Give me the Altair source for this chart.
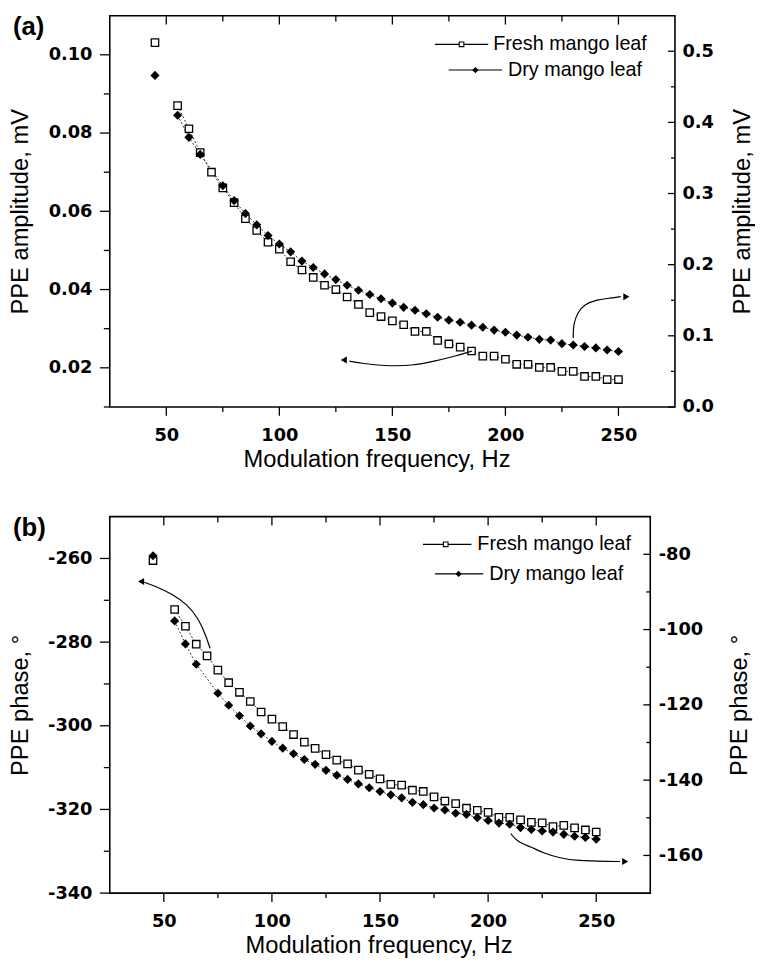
import altair as alt
import pandas as pd

# ---------------- data ----------------
FREQ = [45, 55, 60, 65, 70, 75, 80, 85, 90, 95, 100, 105, 110, 115, 120, 125, 130, 135, 140, 145,
        150, 155, 160, 165, 170, 175, 180, 185, 190, 195, 200, 205, 210, 215, 220, 225, 230, 235, 240, 245, 250]
FREQ_DRY = [45, 55, 60, 65, 75, 80, 85, 90, 95, 100, 105, 110, 115, 120, 125, 130, 135, 140, 145,
            150, 155, 160, 165, 170, 175, 180, 185, 190, 195, 200, 205, 210, 215, 220, 225, 230, 235, 240, 245, 250]

A_FRESH = [0.1031, 0.0870, 0.0811, 0.0750, 0.0700, 0.0660, 0.0622, 0.0581, 0.0551, 0.0521, 0.0503,
           0.0471, 0.0450, 0.0431, 0.0411, 0.0400, 0.0381, 0.0362, 0.0341, 0.0331, 0.0320, 0.0310,
           0.0293, 0.0293, 0.0270, 0.0261, 0.0253, 0.0243, 0.0230, 0.0230, 0.0222, 0.0209, 0.0209,
           0.0201, 0.0201, 0.0191, 0.0191, 0.0178, 0.0178, 0.0170, 0.0170]
A_DRY = [0.466, 0.410, 0.379, 0.355, 0.311, 0.290, 0.272, 0.256, 0.241, 0.229, 0.218, 0.205, 0.196,
         0.187, 0.179, 0.171, 0.164, 0.158, 0.152, 0.146, 0.140, 0.136, 0.131, 0.126, 0.122, 0.119,
         0.115, 0.112, 0.108, 0.105, 0.101, 0.098, 0.095, 0.094, 0.089, 0.087, 0.085, 0.083, 0.080, 0.078]
B_FRESH = [-260.5, -272.2, -276.2, -280.5, -283.3, -286.7, -289.7, -292.0, -294.2, -296.7, -298.4,
           -300.2, -302.1, -303.9, -305.4, -306.9, -308.2, -309.1, -310.6, -311.6, -312.7, -314.0,
           -314.2, -315.4, -315.7, -317.0, -318.0, -318.6, -319.7, -320.2, -320.7, -321.9, -321.9,
           -322.5, -323.1, -323.2, -324.1, -323.8, -324.4, -324.9, -325.4]
B_DRY = [-80.4, -97.7, -103.8, -109.2, -116.9, -120.1, -122.9, -125.6, -127.7, -129.7, -131.5,
         -133.0, -134.5, -135.8, -137.4, -138.7, -139.8, -141.0, -142.0, -143.0, -143.9, -144.7,
         -145.9, -146.5, -147.4, -147.9, -148.8, -149.1, -150.0, -150.7, -151.4, -151.7, -152.6,
         -153.1, -153.5, -153.8, -154.4, -154.9, -155.2, -155.7]

# annotation arrows (data coordinates)
A_ARR_R_F = [230, 230, 232, 234.8, 240.6, 246.4, 251]
A_ARR_R_V = [0.097, 0.116, 0.133, 0.144, 0.151, 0.153, 0.155]
A_HEAD_R = ([253.5], [0.155])
A_ARR_L_F = [185.3, 178, 169.2, 159, 145.9, 137.1, 131]
A_ARR_L_V = [0.0243, 0.0230, 0.0218, 0.0205, 0.0205, 0.0211, 0.0217]
A_HEAD_L = ([128.5], [0.0220])
B_ARR_L_F = [71.4, 69.4, 66.1, 60.7, 53.9, 46.3, 41]
B_ARR_L_V = [-281.5, -278.4, -274.4, -270.9, -268.5, -266.7, -265.7]
B_HEAD_L = ([39.5], [-265.5])
B_ARR_R_F = [210.5, 213.5, 219.7, 225.7, 233.3, 241.0, 256.2, 261]
B_ARR_R_V = [-154.2, -156.4, -157.7, -159.4, -160.7, -161.4, -161.6, -161.6]
B_HEAD_R = ([263.4], [-161.6])

# ticks
X_MAJOR = [50, 100, 150, 200, 250]
X_MINOR = [75, 125, 175, 225]
A_L_MAJOR = [0.02, 0.04, 0.06, 0.08, 0.10]
A_L_MINOR = [0.01, 0.03, 0.05, 0.07, 0.09]
A_R_MAJOR = [0.0, 0.1, 0.2, 0.3, 0.4, 0.5]
A_R_MINOR = [0.05, 0.15, 0.25, 0.35, 0.45]
B_L_MAJOR = [-340, -320, -300, -280, -260]
B_L_MINOR = [-330, -310, -290, -270]
B_R_MAJOR = [-160, -140, -120, -100, -80]
B_R_MINOR = [-150, -130, -110, -90]

LEGEND = ["Fresh mango leaf", "Dry mango leaf"]

LABEL_FONT = "DejaVu Sans"
TEXT_FONT = "Liberation Sans"


def panel(W, H, fresh, dry, ldom, rdom, lmaj, lmin, rmaj, rmin, lfmt, rfmt,
          ltitle, rtitle, larr, lhead, rarr, rhead, leg, tag, r_ext, r_lpad, r_tpad, title_x):
    xscale = alt.Scale(domain=[25, 275], nice=False, zero=False)
    xaxis = alt.Axis(values=X_MAJOR, ticks=False, tickSize=0, domain=False, grid=False,
                     labelPadding=20, labelFont=LABEL_FONT, labelFontWeight="bold",
                     labelFontSize=18, labelColor="black", labelFlush=False,
                     title="Modulation frequency, Hz", titleFont=TEXT_FONT, titleFontSize=24,
                     titleFontWeight="normal", titleColor="black", titlePadding=3, titleX=title_x)
    X = alt.X("f:Q", scale=xscale, axis=xaxis)
    lscale = alt.Scale(domain=ldom, nice=False, zero=False)
    rscale = alt.Scale(domain=rdom, nice=False, zero=False)
    laxis = alt.Axis(orient="left", values=lmaj, ticks=False, tickSize=0, domain=False, grid=False,
                     labelExpr=lfmt, labelPadding=18, labelFont=LABEL_FONT, labelFontWeight="bold",
                     labelFontSize=18, labelColor="black", minExtent=62, maxExtent=62,
                     title=ltitle, titleFont=TEXT_FONT, titleFontSize=24, titleFontWeight="normal",
                     titleColor="black", titlePadding=16)
    raxis = alt.Axis(orient="right", values=rmaj, ticks=False, tickSize=0, domain=False, grid=False,
                     labelExpr=rfmt, labelPadding=r_lpad, labelFont=LABEL_FONT, labelFontWeight="bold",
                     labelFontSize=18, labelColor="black", minExtent=r_ext, maxExtent=r_ext,
                     title=rtitle, titleFont=TEXT_FONT, titleFontSize=24, titleFontWeight="normal",
                     titleColor="black", titlePadding=r_tpad, titleAngle=270, titleBaseline="top")

    df_f = pd.DataFrame({"f": FREQ, "v": fresh})
    df_d = pd.DataFrame({"f": FREQ_DRY, "v": dry})
    YL = lambda ax=None: alt.Y("v:Q", scale=lscale, axis=ax)
    YR = lambda ax=None: alt.Y("v:Q", scale=rscale, axis=ax)

    layers = []
    # connecting dashed lines (from 55 Hz on)
    layers.append(alt.Chart(df_f[df_f.f >= 55]).mark_line(color="black", strokeWidth=0.8, strokeDash=[2, 2])
                  .encode(x=X, y=YL()))
    layers.append(alt.Chart(df_d[df_d.f >= 55]).mark_line(color="black", strokeWidth=0.8, strokeDash=[2, 2])
                  .encode(x=X, y=YR()))
    # points
    layers.append(alt.Chart(df_f).mark_point(shape="square", size=56, filled=True, fill="white",
                                             stroke="black", strokeWidth=1.3, opacity=1)
                  .encode(x=X, y=YL(laxis)))
    layers.append(alt.Chart(df_d).mark_point(shape="diamond", size=85, filled=True, color="black", opacity=1)
                  .encode(x=X, y=YR(raxis)))
    # arrows
    dl = pd.DataFrame({"f": larr[0], "v": larr[1], "i": list(range(len(larr[0])))})
    dr = pd.DataFrame({"f": rarr[0], "v": rarr[1], "i": list(range(len(rarr[0])))})
    layers.append(alt.Chart(dl).mark_line(color="black", strokeWidth=1.2, interpolate="basis")
                  .encode(x=X, y=YL(), order=alt.Order("i:Q")))
    layers.append(alt.Chart(dr).mark_line(color="black", strokeWidth=1.2, interpolate="basis")
                  .encode(x=X, y=YR(), order=alt.Order("i:Q")))
    layers.append(alt.Chart(pd.DataFrame({"f": lhead[0], "v": lhead[1]}))
                  .mark_point(shape="triangle-left", size=50, filled=True, color="black", opacity=1)
                  .encode(x=X, y=YL()))
    layers.append(alt.Chart(pd.DataFrame({"f": rhead[0], "v": rhead[1]}))
                  .mark_point(shape="triangle-right", size=50, filled=True, color="black", opacity=1)
                  .encode(x=X, y=YR()))
    # ticks
    def xt(vals, y0, y1):
        return alt.Chart(pd.DataFrame({"f": vals})).mark_rule(color="black", strokeWidth=1.3).encode(
            x=X, y=alt.value(y0), y2=alt.value(y1))
    layers += [xt(X_MAJOR, H, H + 9), xt(X_MINOR, H, H + 5), xt(X_MAJOR, 0, 9), xt(X_MINOR, 0, 6)]

    def yt(vals, Y, x0, x1):
        return alt.Chart(pd.DataFrame({"v": vals})).mark_rule(color="black", strokeWidth=1.3).encode(
            y=Y(), x=alt.value(x0), x2=alt.value(x1))
    layers += [yt(lmaj, YL, -10, 0), yt(lmin, YL, -6, 0), yt(rmaj, YR, W - 7, W), yt(rmin, YR, W - 4, W)]

    # legend
    one = pd.DataFrame({"k": [0]})
    (y1, l1a, l1b, m1, t1), (y2, l2a, l2b, m2, t2) = leg
    layers.append(alt.Chart(one).mark_rule(color="black", strokeWidth=1.2).encode(
        x=alt.value(l1a), x2=alt.value(l1b), y=alt.value(y1)))
    layers.append(alt.Chart(one).mark_rule(color="black", strokeWidth=1.2).encode(
        x=alt.value(l2a), x2=alt.value(l2b), y=alt.value(y2)))
    layers.append(alt.Chart(one).mark_point(shape="square", size=22, filled=True, fill="white",
                                            stroke="black", strokeWidth=1.1, opacity=1).encode(
        x=alt.value(m1), y=alt.value(y1)))
    layers.append(alt.Chart(one).mark_point(shape="diamond", size=40, filled=True, color="black", opacity=1).encode(
        x=alt.value(m2), y=alt.value(y2)))
    layers.append(alt.Chart(pd.DataFrame({"t": [LEGEND[0]]})).mark_text(
        align="left", baseline="middle", font=TEXT_FONT, fontSize=20, color="black").encode(
        x=alt.value(t1), y=alt.value(y1), text="t:N"))
    layers.append(alt.Chart(pd.DataFrame({"t": [LEGEND[1]]})).mark_text(
        align="left", baseline="middle", font=TEXT_FONT, fontSize=20, color="black").encode(
        x=alt.value(t2), y=alt.value(y2), text="t:N"))
    # panel tag
    layers.append(alt.Chart(pd.DataFrame({"t": [tag]})).mark_text(
        align="left", baseline="middle", font=TEXT_FONT, fontSize=26, fontWeight="bold", color="black").encode(
        x=alt.value(-98), y=alt.value(12), text="t:N"))

    return alt.layer(*layers).resolve_scale(y="independent").properties(width=W, height=H)


pa = panel(572, 396, A_FRESH, A_DRY, [0.01, 0.11], [0.0, 0.55], A_L_MAJOR, A_L_MINOR, A_R_MAJOR, A_R_MINOR,
           "format(datum.value, '.2f')", "format(datum.value, '.1f')",
           "PPE amplitude, mV", "PPE amplitude, mV",
           (A_ARR_L_F, A_ARR_L_V), A_HEAD_L, (A_ARR_R_F, A_ARR_R_V), A_HEAD_R,
           [(29, 329, 383, 356, 388), (55, 343, 397, 370, 403)], "(a)", 39, 7, 17, 270)

pb = panel(547, 381, B_FRESH, B_DRY, [-340, -250], [-170, -70], B_L_MAJOR, B_L_MINOR, B_R_MAJOR, B_R_MINOR,
           "'' + datum.value", "'' + datum.value",
           "PPE phase, °", "PPE phase, °",
           (B_ARR_L_F, B_ARR_L_V), B_HEAD_L, (B_ARR_R_F, B_ARR_R_V), B_HEAD_R,
           [(28, 317, 366, 340, 372), (58, 329, 378, 353, 384)], "(b)", 53, 8, 25, 272)

chart = alt.vconcat(pa, pb, spacing=43).properties(padding=0).configure_view(
    stroke="black", strokeWidth=1.6).configure_axis(grid=False)

chart.save("out.html", embed_options={"renderer": "svg", "actions": False})
